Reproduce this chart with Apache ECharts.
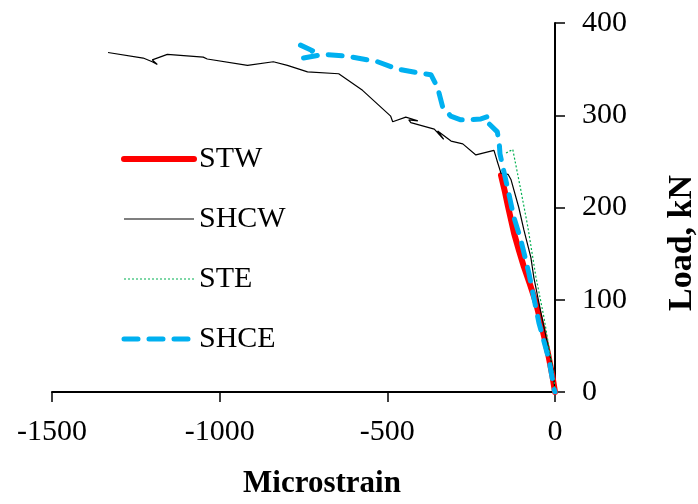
<!DOCTYPE html>
<html>
<head>
<meta charset="utf-8">
<script src="https://cdn.jsdelivr.net/npm/echarts@6/dist/echarts.min.js"></script>
<style>html,body{margin:0;padding:0;background:#fff}#c{width:698px;height:504px}</style>
</head>
<body>
<div id="c"></div>
<script>
const seriesNames = ['STW', 'SHCW', 'STE', 'SHCE'];
const xTicks = [-1500, -1000, -500, 0];
const yTicks = [0, 100, 200, 300, 400];

const STW = [[-161, 235], [-150, 218], [-140, 201], [-122, 172], [-108, 154], [-93, 136], [-75, 117], [-57, 97], [-40, 72], [-21, 42], [-8, 18], [0, 0]];

const SHCW = [[-1333, 368], [-1228, 362], [-1201, 358], [-1186, 355], [-1201, 360], [-1156, 366], [-1049, 363],
  [-1037, 361], [-917, 354], [-840, 358], [-798, 354], [-738, 347], [-645, 345], [-574, 327], [-490, 299],
  [-484, 293], [-445, 298], [-409, 294], [-436, 295], [-430, 292], [-360, 285], [-332, 274], [-350, 283],
  [-310, 272], [-275, 269], [-236, 257], [-182, 262], [-173, 251], [-161, 237], [-140, 236], [-131, 230],
  [-108, 200], [-93, 176], [-72, 146], [-63, 124], [-42, 86], [-6, 24], [0, 0]];

const STE = [[-146, 259], [-126, 263], [-102, 219], [-81, 179], [-57, 125], [-33, 81], [-3, 16], [0, 0]];

const SHCE = [[-759, 376], [-723, 370], [-750, 362], [-690, 366], [-619, 364], [-529, 358], [-469, 350],
  [-409, 346], [-370, 344], [-350, 330], [-335, 309], [-311, 299], [-281, 295], [-260, 295], [-221, 296],
  [-197, 299], [-200, 292], [-172, 282], [-166, 268], [-164, 258], [-155, 243], [-140, 219], [-123, 190],
  [-102, 165], [-78, 129], [-48, 75], [-18, 35], [-2, 2], [0, 0]];

const font = 'Liberation Serif, Times New Roman, serif';
const legendWidths = { STW: 6, SHCW: 1.2, STE: 1.2, SHCE: 5 };
const chart = echarts.init(document.getElementById('c'));
chart.setOption({
  animation: false,
  backgroundColor: '#fff',
  grid: { left: 52, right: 143, top: 23, bottom: 112, containLabel: false },
  legend: {
    orient: 'vertical', left: 121, top: 144, padding: 0,
    itemWidth: 70, itemHeight: 14, itemGap: 30,
    itemStyle: { opacity: 0 },
    data: seriesNames.map(n => ({ name: n, lineStyle: { width: legendWidths[n] } })),
    textStyle: { fontFamily: font, fontSize: 30, color: '#000' }
  },
  xAxis: {
    type: 'value', min: xTicks[0], max: xTicks[xTicks.length - 1], interval: 500,
    splitLine: { show: false },
    axisLine: { onZero: false, lineStyle: { color: '#000', width: 2 } },
    axisTick: { show: true, length: 10, lineStyle: { color: '#000', width: 1.5 } },
    axisLabel: { fontFamily: font, fontSize: 30, color: '#000', margin: 25, formatter: v => String(v) }
  },
  yAxis: {
    type: 'value', position: 'right', min: yTicks[0], max: yTicks[yTicks.length - 1], interval: 100,
    splitLine: { show: false },
    axisLine: { show: true, onZero: false, lineStyle: { color: '#000', width: 2 } },
    axisTick: { show: true, length: 10, lineStyle: { color: '#000', width: 1.5 } },
    axisLabel: { fontFamily: font, fontSize: 30, color: '#000', margin: 27, formatter: v => String(v) }
  },
  graphic: [
    { type: 'text', x: 322, y: 484, style: { text: 'Microstrain', font: 'bold 31px ' + font, fill: '#000', align: 'center', verticalAlign: 'middle' } },
    { type: 'text', x: 682, y: 243, rotation: Math.PI / 2, style: { text: 'Load, kN', font: 'bold 34px ' + font, fill: '#000', align: 'center', verticalAlign: 'middle' } }
  ],
  series: [
    { name: 'STW', type: 'line', data: STW, symbol: 'none', z: 2,
      lineStyle: { color: '#FF0000', width: 6, cap: 'round', join: 'round' }, itemStyle: { color: '#FF0000' } },
    { name: 'SHCW', type: 'line', data: SHCW, symbol: 'none', z: 3,
      lineStyle: { color: '#000', width: 1.2 }, itemStyle: { color: '#000' } },
    { name: 'STE', type: 'line', data: STE, symbol: 'none', z: 3,
      lineStyle: { color: '#00B050', width: 1.2, type: [2, 2] }, itemStyle: { color: '#00B050' } },
    { name: 'SHCE', type: 'line', data: SHCE, symbol: 'none', z: 4,
      lineStyle: { color: '#00B0F0', width: 5, type: [14, 11], cap: 'round', join: 'round' }, itemStyle: { color: '#00B0F0' } }
  ]
});
</script>
</body>
</html>
